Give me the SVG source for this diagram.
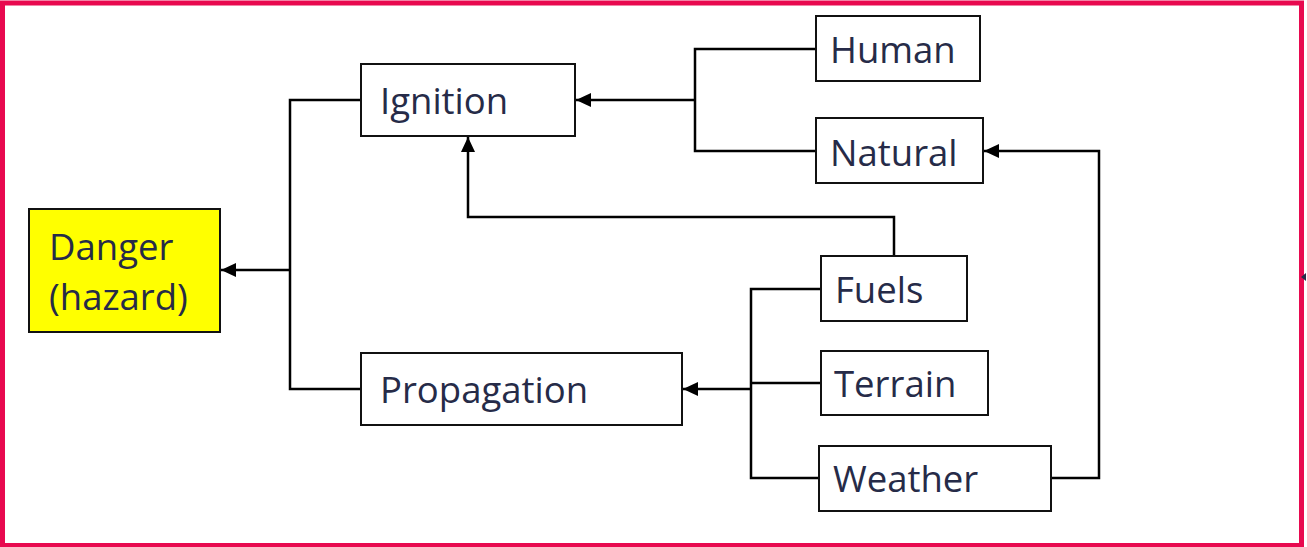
<svg xmlns="http://www.w3.org/2000/svg" width="1307" height="547" viewBox="0 0 1307 547">
  <style>
    .box { fill: #ffffff; stroke: #111111; stroke-width: 2; }
    .hazard { fill: #ffff00; }
    .label { font-family: "Open Sans", "Liberation Sans", sans-serif; font-size: 36.5px; fill: #262b48; }
    .wire { fill: none; stroke: #000000; stroke-width: 2.5; }
    .arrow { marker-end: url(#head); }
  </style>
  <defs>
    <marker id="head" markerUnits="userSpaceOnUse" markerWidth="16" markerHeight="16" viewBox="0 0 16 16" refX="15" refY="8" orient="auto">
      <path d="M0,1 L15,8 L0,15 Z" fill="#000000"/>
    </marker>
  </defs>

  <rect width="1307" height="547" fill="#ffffff"/>
  <!-- outer frame -->
  <rect x="2.5" y="3" width="1299" height="542.5" fill="none" stroke="#e8094f" stroke-width="5"/>
  <!-- clipped pointer at the right edge -->
  <path d="M1301,277 L1306,273 L1306,281 Z" fill="#262b48"/>

  <g id="connectors">
    <!-- Ignition / Propagation -> Danger -->
    <path class="wire" d="M361,100 H290 V389 H361"/>
    <path class="wire arrow" d="M290,270 H221"/>
    <!-- Human / Natural -> Ignition -->
    <path class="wire" d="M816,49 H695 V151 H816"/>
    <path class="wire arrow" d="M695,100 H576"/>
    <!-- Weather -> Natural -->
    <path class="wire arrow" d="M1051,478 H1099 V151 H984"/>
    <!-- Fuels -> Ignition -->
    <path class="wire arrow" d="M894,256 V217 H468 V137"/>
    <!-- Fuels / Terrain / Weather -> Propagation -->
    <path class="wire" d="M821,289 H751 V478 H819"/>
    <path class="wire" d="M751,383 H821"/>
    <path class="wire arrow" d="M751,389 H683"/>
  </g>

  <g id="danger">
    <rect class="box hazard" x="29" y="209" width="191" height="123"/>
    <text class="label" x="49" y="260">Danger</text>
    <text class="label" x="49" y="310">(hazard)</text>
  </g>
  <g id="ignition">
    <rect class="box" x="361" y="64" width="214" height="72"/>
    <text class="label" x="380" y="114">Ignition</text>
  </g>
  <g id="propagation">
    <rect class="box" x="361" y="353" width="321" height="72"/>
    <text class="label" x="380" y="403">Propagation</text>
  </g>
  <g id="human">
    <rect class="box" x="816" y="16" width="164" height="65"/>
    <text class="label" x="830" y="63">Human</text>
  </g>
  <g id="natural">
    <rect class="box" x="816" y="118" width="167" height="65"/>
    <text class="label" x="830" y="166">Natural</text>
  </g>
  <g id="fuels">
    <rect class="box" x="821" y="256" width="146" height="65"/>
    <text class="label" x="835" y="303">Fuels</text>
  </g>
  <g id="terrain">
    <rect class="box" x="821" y="351" width="167" height="64"/>
    <text class="label" x="834" y="397">Terrain</text>
  </g>
  <g id="weather">
    <rect class="box" x="819" y="446" width="232" height="65"/>
    <text class="label" x="833" y="492">Weather</text>
  </g>
</svg>
